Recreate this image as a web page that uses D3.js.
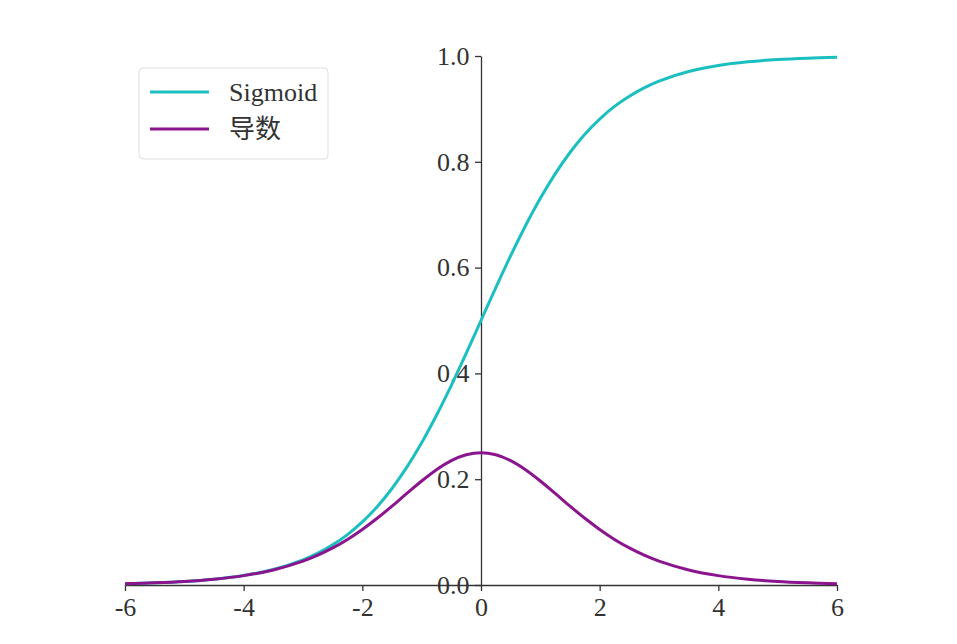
<!DOCTYPE html>
<meta charset="utf-8">
<style>
body { margin: 0; background: #fff; }
text { font-family: "Liberation Serif", "DejaVu Serif", "Noto Sans CJK SC", serif; fill: #333; }
.axis path, .axis line { stroke: #333; stroke-width: 1.3px; }
</style>
<svg width="957" height="644"></svg>
<script src="https://d3js.org/d3.v7.min.js"></script>
<script>

// values (0.25 steps in the middle, 0.5 in the tails)
var xs = [-6, -5.5, -5, -4.5, -4, -3.5, -3, -2.75, -2.5, -2.25, -2, -1.75, -1.5, -1.25, -1, -0.75, -0.5, -0.25, 0,
          0.25, 0.5, 0.75, 1, 1.25, 1.5, 1.75, 2, 2.25, 2.5, 2.75, 3, 3.5, 4, 4.5, 5, 5.5, 6];
var sigmoid = [0.0025, 0.0041, 0.0067, 0.0110, 0.0180, 0.0293, 0.0474, 0.0601, 0.0759, 0.0953, 0.1192, 0.1480, 0.1824, 0.2227, 0.2689, 0.3208, 0.3775, 0.4378, 0.5,
               0.5622, 0.6225, 0.6792, 0.7311, 0.7773, 0.8176, 0.8520, 0.8808, 0.9047, 0.9241, 0.9399, 0.9526, 0.9707, 0.9820, 0.9890, 0.9933, 0.9959, 0.9975];
var deriv = [0.0025, 0.0041, 0.0066, 0.0109, 0.0177, 0.0285, 0.0452, 0.0564, 0.0701, 0.0862, 0.1050, 0.1261, 0.1491, 0.1731, 0.1966, 0.2179, 0.2350, 0.2461, 0.25,
             0.2461, 0.2350, 0.2179, 0.1966, 0.1731, 0.1491, 0.1261, 0.1050, 0.0862, 0.0701, 0.0564, 0.0452, 0.0285, 0.0177, 0.0109, 0.0066, 0.0041, 0.0025];
var xTicks = [-6, -4, -2, 0, 2, 4, 6];
var yTicks = [0, 0.2, 0.4, 0.6, 0.8, 1.0];
var names = ["Sigmoid", "导数"];
var colors = ["#1cbfc0", "#8b148f"];

var svg = d3.select("svg");

var x = d3.scaleLinear().domain([-6, 6]).range([125, 837]);
var y = d3.scaleLinear().domain([0, 1]).range([585, 56]);

// x axis sits on y = 0
var xAxis = svg.append("g")
    .attr("class", "axis")
    .attr("transform", "translate(0," + y(0) + ")")
    .call(d3.axisBottom(x).tickValues(xTicks).tickSize(6).tickSizeOuter(0)
      .tickFormat(function(d) { return String(d); }));
xAxis.selectAll("text").attr("dy", "0.85em");

// y axis sits on x = 0
var yAxis = svg.append("g")
    .attr("class", "axis")
    .attr("transform", "translate(" + x(0) + ",0)")
    .call(d3.axisLeft(y).tickValues(yTicks).tickSize(6).tickSizeOuter(0).tickFormat(d3.format(".1f")));
yAxis.selectAll("text").attr("dx", "-0.1em");
svg.selectAll(".axis").attr("font-size", null).attr("font-family", null);
svg.selectAll(".axis text").style("font-size", "26px").attr("fill", "#333");

var line = d3.line().curve(d3.curveCatmullRom);

var series = [sigmoid, deriv];
series.forEach(function(vals, i) {
  svg.append("path")
      .attr("fill", "none")
      .attr("stroke", colors[i])
      .attr("stroke-width", 3)
      .attr("d", line(xs.map(function(v, j) { return [x(v), y(vals[j])]; })));
});

// legend
var legend = svg.append("g");
legend.append("rect")
    .attr("x", 139).attr("y", 68).attr("width", 189).attr("height", 91)
    .attr("rx", 4).attr("fill", "#fff").attr("stroke", "#ddd");

names.forEach(function(n, i) {
  var yy = 92 + i * 37;
  legend.append("line")
      .attr("x1", 150).attr("x2", 209).attr("y1", yy).attr("y2", yy)
      .attr("stroke", colors[i]).attr("stroke-width", 3);
  legend.append("text")
      .attr("x", 229).attr("y", yy).attr("dy", "0.35em")
      .style("font-size", "26px")
      .text(n);
});

</script>
